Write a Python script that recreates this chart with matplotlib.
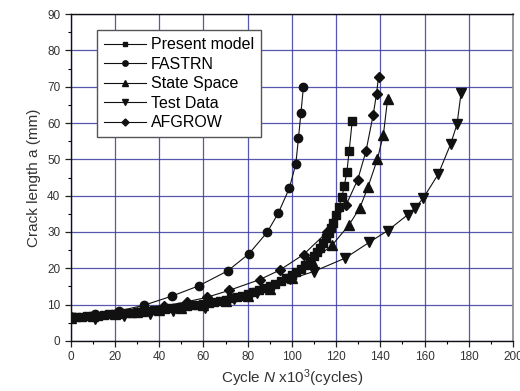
import matplotlib
matplotlib.use("Agg")
import matplotlib.pyplot as plt
from matplotlib.ticker import MultipleLocator

plt.rcParams['font.family'] = ['Liberation Sans', 'DejaVu Sans']
plt.rcParams['mathtext.fontset'] = 'custom'
plt.rcParams['mathtext.rm'] = 'Liberation Sans'
plt.rcParams['mathtext.it'] = 'Liberation Sans:italic'

# ---- data (N in 10^3 cycles, a in mm) ----
present_N = [0, 2.5, 5, 7.5, 10, 12.5, 15, 17.5, 20, 22.5, 25, 27.5, 30, 32.5, 35, 37.5,
             40, 42.5, 45, 47.5, 50, 52.5, 55, 57.5, 60, 62.5, 65, 67.5, 70, 72.5, 75,
             77.5, 80, 82.5, 85, 87.5, 90, 92.5, 95, 97.5, 100, 102, 104, 106, 108, 110,
             111.5, 112.7, 114, 115.4, 116.7, 117.6, 118.7, 119.9, 121.3, 122.6, 123.7,
             124.9, 125.9, 127.3]
present_a = [6.5, 6.6, 6.7, 6.8, 6.9, 7.0, 7.1, 7.3, 7.4, 7.5, 7.7, 7.8, 7.9, 8.1, 8.2, 8.4,
             8.6, 8.8, 9.0, 9.2, 9.4, 9.6, 9.8, 10.0, 10.3, 10.5, 10.8, 11.1, 11.4, 11.7, 12.1,
             12.5, 12.9, 13.4, 13.9, 14.5, 15.1, 15.8, 16.5, 17.3, 18.1, 18.9, 19.8, 20.8, 22.0, 23.4,
             24.5, 25.5, 26.9, 28.3, 29.7, 31.0, 32.6, 34.7, 37.0, 39.5, 42.7,
             46.6, 52.2, 60.6]

fastrn_N = [0, 11, 22, 33, 46, 58, 71, 80.6, 88.8, 93.8, 98.9, 101.8, 103, 104.1, 105.2]
fastrn_a = [6.5, 7.3, 8.3, 9.8, 12.4, 15.2, 19.3, 24.0, 29.9, 35.1, 42.1, 48.8, 55.9, 62.7, 69.8]

state_N = [0, 10, 20, 30, 40, 50, 60, 70, 80, 90, 100, 109, 118.1, 125.7, 130.8, 134.5,
           138.7, 141.4, 143.3]
state_a = [6.4, 6.8, 7.3, 7.9, 8.5, 9.2, 10.0, 11.0, 12.3, 14.2, 17.2, 22.0, 26.3, 31.8,
           36.7, 42.5, 50.1, 56.8, 66.6]

test_N = [0, 11, 24, 36, 46.4, 60.8, 74, 84.2, 99.2, 109.8, 124.1, 135.1, 143.4, 152.3,
          155.8, 159.4, 166.2, 171.8, 174.7, 176.5]
test_a = [6.3, 6.1, 6.9, 7.4, 8.3, 9.0, 11.5, 13.1, 17.0, 19.1, 22.8, 27.2, 30.4, 34.7,
          36.7, 39.3, 45.9, 54.2, 59.7, 68.2]

afgrow_N = [0, 10.5, 21.5, 32.5, 42, 52.6, 61.5, 71.5, 85.5, 94.5, 105.3, 115.8, 124.5,
            129.8, 133.5, 136.8, 138.3, 139.2]
afgrow_a = [6.5, 7.0, 7.8, 8.7, 9.6, 10.8, 12.0, 13.9, 16.9, 19.5, 23.8, 29.9, 37.4,
            44.4, 52.2, 62.3, 68.1, 72.8]

labels = ['Present model', 'FASTRN', 'State Space', 'Test Data', 'AFGROW']
markers = ['s', 'o', '^', 'v', 'D']
x_ticks = [0, 20, 40, 60, 80, 100, 120, 140, 160, 180, 200]
y_ticks = [0, 10, 20, 30, 40, 50, 60, 70, 80, 90]

fig = plt.figure(figsize=(5.2, 3.91), dpi=100)
ax = fig.add_axes([0.136, 0.128, 0.8505, 0.836])

series = [(present_N, present_a), (fastrn_N, fastrn_a), (state_N, state_a),
          (test_N, test_a), (afgrow_N, afgrow_a)]
msizes = [5.5, 6, 6.5, 6.5, 5.5]
for (xs, ys), lab, mk, ms in zip(series, labels, markers, msizes):
    ax.plot(xs, ys, color='#111111', lw=0.8, marker=mk, ms=ms, mfc='#111111',
            mec='#111111', label=lab)

ax.set_xlim(0, 200)
ax.set_ylim(0, 90)
ax.set_xticks(x_ticks)
ax.set_yticks(y_ticks)
ax.xaxis.set_minor_locator(MultipleLocator(10))
ax.yaxis.set_minor_locator(MultipleLocator(5))
ax.tick_params(which='major', direction='out', length=4, width=0.9, labelsize=8.5,
               colors='#222222', labelcolor='#333333', top=False, right=False)
ax.tick_params(which='minor', direction='out', length=2.5, width=0.8, top=False, right=False)
ax.grid(True, which='major', color='#3a3aa0', lw=0.9, alpha=0.85)
ax.set_axisbelow(True)

for s in ['left', 'bottom', 'top']:
    ax.spines[s].set_color('#111111')
    ax.spines[s].set_linewidth(1.0)
ax.spines['right'].set_color('#888888')
ax.spines['right'].set_linewidth(1.2)

ax.set_xlabel('Cycle $\\it{N}$ x10$^3$(cycles)', fontsize=11, color='#333333', labelpad=3)
ax.set_ylabel('Crack length a (mm)', fontsize=11, color='#333333', labelpad=4)

leg = ax.legend(loc='upper left', bbox_to_anchor=(0.06, 0.951), borderaxespad=0,
                fontsize=11.5, markerscale=0.65, handlelength=2.6, handletextpad=0.3,
                labelspacing=0.28, borderpad=0.45, fancybox=False, framealpha=1,
                edgecolor='#555555')
leg.get_frame().set_linewidth(1.0)

fig.savefig('out.png', dpi=100)
